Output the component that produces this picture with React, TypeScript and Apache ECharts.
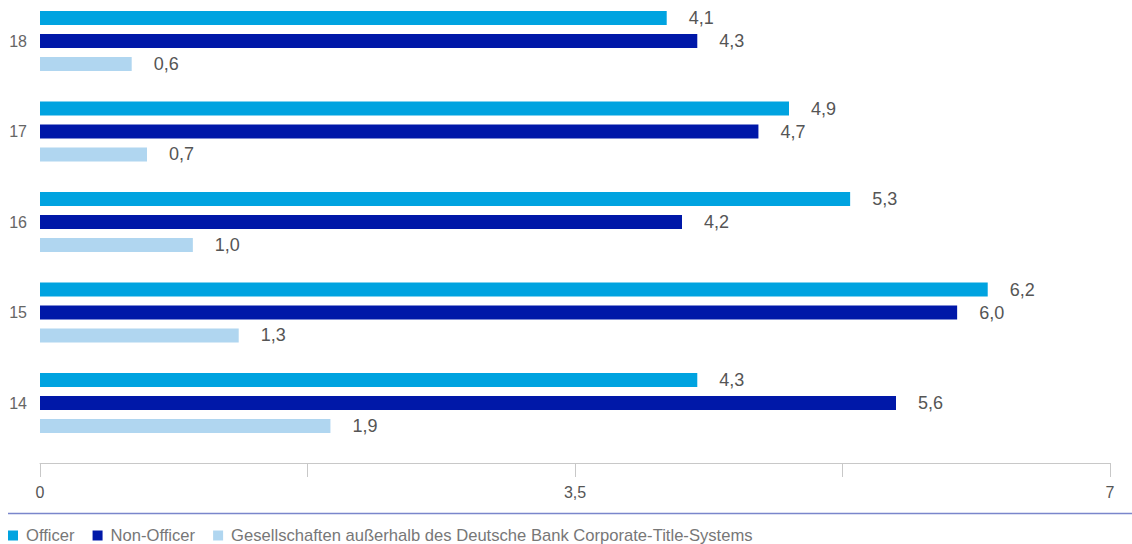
import React, { useEffect, useRef } from "react";
import * as echarts from "echarts";

const categories = ["14", "15", "16", "17", "18"];
const officer = [4.3, 6.2, 5.3, 4.9, 4.1];
const nonOfficer = [5.6, 6.0, 4.2, 4.7, 4.3];
const gesellschaften = [1.9, 1.3, 1.0, 0.7, 0.6];
const seriesNames = [
  "Officer",
  "Non-Officer",
  "Gesellschaften außerhalb des Deutsche Bank Corporate-Title-Systems",
];
const colors = ["#00a3e0", "#0018a8", "#b0d6f0"];
const xTickLabels: Record<string, string> = { "0": "0", "3.5": "3,5", "7": "7" };

const FONT = "'Liberation Sans', Arial, sans-serif";

export default function App() {
  const ref = useRef<HTMLDivElement>(null);
  useEffect(() => {
    if (!ref.current) return;
    const chart = echarts.init(ref.current, undefined, { renderer: "svg" });
    const fmt = (p: any) => Number(p.value).toFixed(1).replace(".", ",");
    const mkSeries = (name: string, data: number[], color: string) => ({
      name,
      type: "bar",
      data,
      barWidth: 14,
      barGap: "64%",
      itemStyle: { color },
      label: {
        show: true,
        position: "right",
        distance: 22,
        formatter: fmt,
        fontSize: 18,
        color: "#555",
        fontFamily: FONT,
      },
    });
    chart.setOption({
      animation: false,
      textStyle: { fontFamily: FONT },
      grid: { left: 40, right: 22, top: 41, height: 362 },
      legend: {
        left: 8,
        top: 527,
        padding: 0,
        icon: "rect",
        itemWidth: 10,
        itemHeight: 10,
        itemGap: 18,
        data: seriesNames,
        textStyle: {
          fontSize: 16.6,
          lineHeight: 14,
          color: "#777",
          fontFamily: FONT,
          padding: [0, 0, 0, 3],
        },
      },
      xAxis: {
        type: "value",
        min: 0,
        max: 7,
        interval: 1.75,
        offset: 60,
        axisLine: { show: true, lineStyle: { color: "#c8c8c8", width: 1 } },
        axisTick: { show: true, length: 14, lineStyle: { color: "#c8c8c8" } },
        splitLine: { show: false },
        axisLabel: {
          margin: 21,
          fontSize: 16,
          color: "#555",
          fontFamily: FONT,
          formatter: (v: number) => xTickLabels[String(v)] ?? "",
        },
      },
      yAxis: {
        type: "category",
        data: categories,
        boundaryGap: false,
        axisLine: { show: false },
        axisTick: { show: false },
        axisLabel: { margin: 13, fontSize: 16, color: "#666", fontFamily: FONT },
      },
      graphic: [
        {
          type: "line",
          shape: { x1: 8, y1: 513.5, x2: 1132, y2: 513.5 },
          style: { stroke: "#7a86cc", lineWidth: 1.5 },
        },
      ],
      series: [
        mkSeries(seriesNames[0], officer, colors[0]),
        mkSeries(seriesNames[1], nonOfficer, colors[1]),
        mkSeries(seriesNames[2], gesellschaften, colors[2]),
      ],
    });
    return () => chart.dispose();
  }, []);
  return <div ref={ref} style={{ width: 1132, height: 544, position: "absolute", left: 0, top: 0 }} />;
}
